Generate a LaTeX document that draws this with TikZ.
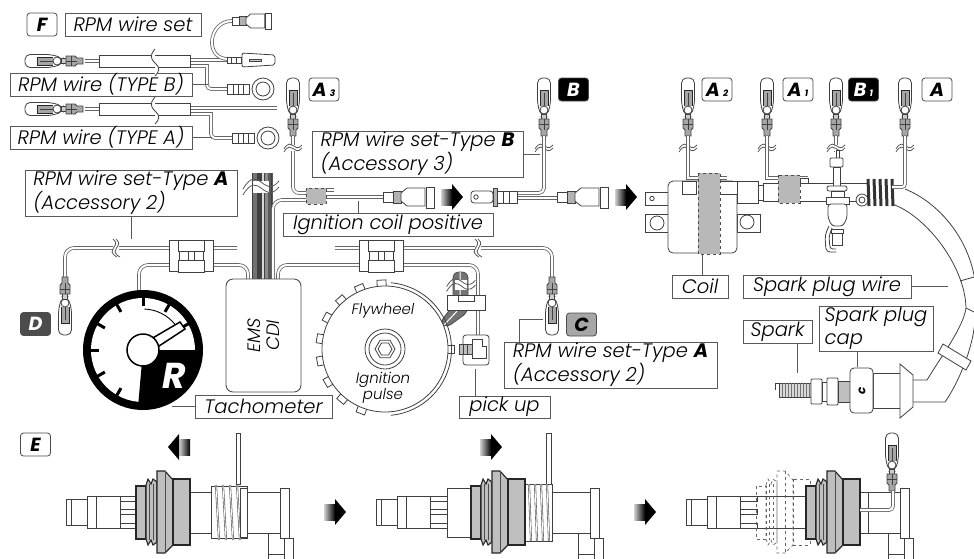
\documentclass[tikz,border=0pt]{standalone}
\usepackage{fontspec}
\setmainfont{Poppins}[UprightFont=* Light,ItalicFont=* Light Italic,BoldFont=* Bold,BoldItalicFont=* Bold Italic]
\tikzset{
    partline/.style={draw=black!75,line width=.8pt},
    leader/.style={draw=black!65,line width=.9pt},
    wire/.style={draw=black!60,line width=.8pt,double=white,double distance=2pt},
    lblbox/.style={draw=black!65,line width=.9pt,fill=white,inner sep=0pt,align=left,font=\fontsize{19.5}{22.5}\selectfont\itshape},
    box/.style 2 args={minimum width=#1pt,minimum height=#2pt},
    tagbox/.style={draw=black!70,line width=.8pt,rounded corners=3pt,minimum width=30pt,minimum height=23pt,inner sep=0pt,font=\fontsize{19}{20}\selectfont\bfseries\itshape},
    bandbox/.style={draw=black!70,dashed,line width=.8pt,fill=black!28},
    bootline/.style={draw=black!85,line width=1.1pt,fill=black!25},
    bootfine/.style={draw=black!70,line width=.7pt},
    bulletplug/.pic={
        \draw[partline,fill=white,rounded corners=5pt] (-3,38) -- (-6.5,26) -- (-6.5,0) -- (6.5,0) -- (6.5,26) -- (3,38) -- cycle;
        \fill[black!35] (-4,12) rectangle (4,28);
        \draw[line width=.9pt,black!85] (-4,28) -- (-4,12) -- (4,12) -- (4,28);
        \draw[partline] (0,15) -- (0,28);
        \draw[partline,fill=white] (0,32) circle (4);
        \draw[partline,fill=black!20] (-2.5,36) rectangle (2.5,42);
        \draw[partline,fill=black!35] (-5,41) -- (5,41) -- (5,50) -- (3,52) -- (3,58) -- (-3,58) -- (-3,52) -- (-5,50) -- cycle;
        \draw[partline] (-5,46) -- (5,46) (0,41) -- (0,52);
    },
    wirebreak/.pic={
        \fill[white] (-4,-3) rectangle (4,3);
        \draw[line width=.8pt,black!65] (-9,1) .. controls (-5,-6) and (-2,-4) .. (0,-2.5) .. controls (2,-1) and (5,2) .. (9,-3);
        \draw[line width=.8pt,black!65] (-9,4) .. controls (-5,-3) and (-2,-1) .. (0,.5) .. controls (2,2) and (5,5) .. (9,0);
    },
    femcon/.pic={
        \draw[partline,fill=white] (0,-5) rectangle (10,5);
        \draw[partline,fill=black!30] (10,-6) rectangle (18,6);
        \draw[partline,fill=white] (18,-4) -- (24,-9) -- (42,-9) -- (42,9) -- (24,9) -- (18,4) -- cycle;
        \draw[partline,fill=white] (43,-10) rectangle (51,11);
    },
    malecon/.pic={
        \draw[partline,fill=white,rounded corners=3pt] (0,-6) rectangle (-22,6);
        \draw[partline,fill=white] (-17,0) circle (2.2);
        \draw[partline,fill=black!30] (0,-9) rectangle (4,9);
        \draw[partline,fill=white] (4,-6) rectangle (24,6);
        \draw[partline] (10,-6) -- (10,6) (16,-6) -- (16,6);
    },
    ringlug/.pic={
        \draw[partline,fill=white] (0,-5) rectangle (22,5);
        \draw[partline] (6,-5) -- (6,5) (11,-5) -- (11,5) (16,-5) -- (16,5);
        \draw[partline,fill=white] (36,0) circle (11);
        \draw[partline] (36,0) circle (7);
    },
    spadelug/.pic={
        \draw[partline,fill=white] (0,-3) rectangle (14,3);
        \draw[partline] (4,-3) -- (4,3) (9,-3) -- (9,3);
        \draw[partline,fill=white,rounded corners=2pt] (15,-7) -- (15,7) -- (48,5) -- (48,-5) -- cycle;
        \draw[partline,fill=black!20] (22,-1) rectangle (34,1);
    },
    splice/.pic={
        \draw[partline,fill=white] (-22,-16) rectangle (-12,15);
        \draw[partline,fill=white] (12,-16) rectangle (22,15);
        \draw[partline,fill=white] (-3,-6) rectangle (3,5);
        \draw[partline,fill=white] (-13,-16) rectangle (13,-5);
        \draw[partline,fill=white] (-13,4) rectangle (13,16);
    },
    gradarrow/.pic={
        \shade[left color=black!18,right color=black] (-11,-8) rectangle (0,8);
        \fill[black] (0,-13) -- (11,0) -- (0,13) -- cycle;
    },
    capfront/.pic={
        \draw[partline,fill=white] (0,-13) rectangle (21,13);
        \draw[partline] (5,-13) -- (5,13);
        \draw[partline,fill=white] (21,-16) rectangle (54,16);
        \draw[partline] (30,-16) -- (30,16);
        \foreach \yy in {-16,-3,11} {
            \draw[partline,fill=white] (54,\yy) rectangle (71,\yy+5);
        }
    },
    capboot/.pic={
        \path[bootline] (0,-26) rectangle (10,27);
        \path[bootline] (10,-27) -- (12,-33) -- (15,-28) -- (17,-33) -- (21,-30) -- (21,30) -- (17,33) -- (15,28) -- (12,33) -- (10,27) -- cycle;
        \path[bootline] (21,-41) -- (29,-41) -- (37,-32) -- (37,33) -- (29,41) -- (21,41) -- cycle;
        \path[bootline] (37,-33) rectangle (54,33);
        \draw[bootfine] (13,-28) -- (13,28) (17,-28) -- (17,28) (29,-41) -- (29,41);
    },
    plateend/.pic={
        \draw[partline,fill=white] (0,-25) rectangle (9,25);
        \draw[partline] (-12,21) -- (-12,46) (4,25) -- (4,46) (4,25) -- (13,25) -- (13,46) (-12,41) -- (4,41);
    },
}
\begin{document}
\begin{tikzpicture}[x=1pt,y=-1pt]
    \useasboundingbox (0,0) rectangle (974,558);
    \clip (0,0) rectangle (974,558);

    % wire sets, top left
    \node (tagF) [tagbox,fill=white] at (42,24.5) {F};
    \node (wireset) [lblbox,box={136}{23}] at (133,24.5) {RPM wire set};
    \draw[wire] (190,60) -- (228,60);
    \draw[wire] (190,66) -- (207,66) [rounded corners=4pt] -- (207,89) -- (228,89);
    \draw[wire] (228,59) to[out=180,in=180,looseness=1.6] (232,21);
    \draw[wire] (190,108) -- (277,108);
    \draw[wire] (190,114) -- (211,114) [rounded corners=4pt] -- (211,138) -- (232,138);
    \pic at (227,60) {spadelug};
    \pic at (227,89) {ringlug};
    \pic at (232,138) {ringlug};
    \pic[scale=.78] at (232,21) {femcon};
    \foreach \yy in {61,109} {
        \pic[rotate=90] at (25,\yy) {bulletplug};
        \draw[partline,fill=white] (99,\yy-6) rectangle (190,\yy+6);
        \draw[wire] (85,\yy) -- (99,\yy);
    }
    \node (typeb) [lblbox,box={182}{23}] at (101,84.5) {RPM wire (TYPE B)};
    \node (typea) [lblbox,box={182}{23}] at (101,137.5) {RPM wire (TYPE A)};
    \draw[leader] (typeb.east) -- (208,84.5);
    \draw[leader] (typea.east) -- (212,137.5);
    \foreach \yy in {61,109} {
        \draw[line width=.9pt,black!70,fill=white] (155,\yy-12) .. controls (150,\yy-6) and (150,\yy-3) .. (155,\yy+2) .. controls (160,\yy+6) and (160,\yy+10) .. (155,\yy+15);
    }

    % wires to the CDI
    \foreach \xx/\cc in {252/55,257/75,261/15,264/45,268/65} {
        \fill[black!\cc] (\xx,173) rectangle (\xx+5,279);
    }
    \draw[partline] (252,173) -- (252,279) (257,173) -- (257,279) (261,173) -- (261,279) (264,173) -- (264,279) (271,173) -- (271,279);
    \pic[scale=2] at (261,187) {wirebreak};
    \draw[wire,rounded corners=9pt] (248,279) -- (248,265) -- (139,265) -- (139,292);
    \draw[wire,rounded corners=9pt] (278,279) -- (278,265) -- (478,265) -- (478,338);
    \draw[wire,rounded corners=9pt] (237,248) -- (65,248) -- (65,278);
    \draw[wire,rounded corners=9pt] (335,248) -- (552,248) -- (552,278);
    \draw[wire,rounded corners=9pt] (273,279) -- (273,200) -- (306,200);
    \draw[wire,rounded corners=6pt] (293,136) -- (293,193) -- (306,193);
    \draw[wire] (324,190) -- (334,190);
    \draw[wire] (324,197) -- (384,197);
    \pic at (191,256) {splice};
    \pic at (381,256) {splice};
    \pic[rotate=90] at (116,248) {wirebreak};
    \pic[rotate=90] at (478,248) {wirebreak};
    \draw[bandbox] (306,188) rectangle (326,204);
    \pic at (383,197) {femcon};

    % plugs
    \foreach \xx in {293,544,688,767,836,905} {
        \pic at (\xx,78) {bulletplug};
        \draw[wire] (\xx,136) -- (\xx,152);
        \pic at (\xx,148) {wirebreak};
    }
    \pic[rotate=180] at (65,335) {bulletplug};
    \pic[rotate=180] at (552,335) {bulletplug};
    \node (taga3) [tagbox,fill=white] at (324,89.5) {A\,{\small 3}};
    \node (tagb) [tagbox,fill=black,text=white] at (573.5,89.5) {B};
    \node (taga2) [tagbox,fill=white] at (717,89.5) {A\,{\small 2}};
    \node (taga1) [tagbox,fill=white] at (798,89.5) {A\,{\small 1}};
    \node (tagb1) [tagbox,fill=black,text=white] at (863.5,89.5) {B\,{\small 1}};
    \node (taga) [tagbox,fill=white] at (937,89.5) {A};
    \node (tagd) [tagbox,fill=black!70,text=white] at (35.5,324) {D};
    \node (tagc) [tagbox,fill=black!35] at (581.5,324.5) {C};

    % labels around the middle
    \node (seta) [lblbox,box={212}{46}] at (131,193) {RPM wire set-Type \textbf{A}\\(Accessory 2)};
    \node (setb) [lblbox,box={211}{46}] at (417.5,154) {RPM wire set-Type \textbf{B}\\(Accessory 3)};
    \node (ignpos) [lblbox,box={210}{23}] at (388,224.5) {Ignition coil positive};
    \node (setc) [lblbox,box={213}{46}] at (610.5,365) {RPM wire set-Type \textbf{A}\\(Accessory 2)};
    \coordinate (seta end) at (131,239);
    \coordinate (setb end) at (540,154);
    \coordinate (ign end) at (358,201);
    \coordinate (setc corner) at (519,319);
    \coordinate (setc end) at (543,319);
    \draw[leader] (seta end |- seta.south) -- (seta end);
    \draw[leader] (setb.east) -- (setb end);
    \draw[leader] (ign end |- ignpos.north) -- (ign end);
    \draw[leader] (setc corner |- setc.north) -- (setc corner) -- (setc end);

    % B connector
    \draw[wire,rounded corners=5pt] (544,140) -- (544,193) -- (518,193);
    \draw[wire] (517,198) -- (558,198);
    \pic[scale=1] at (493,197) {malecon};
    \pic at (557,197) {femcon};
    \pic at (452,197) {gradarrow};
    \pic at (626,197) {gradarrow};

    % CDI box
    \node (cdi) [draw=black!70,line width=.9pt,fill=white,rounded corners=7pt,minimum width=75pt,minimum height=113pt,inner sep=0pt] at (263.5,335.5) {};
    \node (cditext) [rotate=90,align=center,font=\fontsize{18}{19}\selectfont\itshape] at (cdi.center) {EMS\\CDI};

    % tachometer
    \begin{scope}[shift={(143,350)}]
        \fill[black] (0,0) circle (60);
        \fill[white] (0,0) circle (52);
        \fill[black] (0,0) -- (0:56) arc (0:95:56) -- cycle;
        \foreach \a in {-90,-60,-120,-150,180,150,120,-30} {
            \draw[black,line width=3pt] (\a:44) -- (\a:54);
        }
        \draw[black,line width=.9pt] (-88:41) arc (-88:-38:41);
        \draw[black,line width=1.5pt,fill=white] (8,-11) -- (37,-28) -- (42,-21) -- (13,-2) -- cycle;
        \draw[black,line width=1.5pt,fill=white] (0,0) circle (16);
        \node (tachlogo) [text=white,font=\fontsize{36}{36}\selectfont\bfseries\itshape,inner sep=0pt] at (31,26) {R};
    \end{scope}
    \node (tach) [lblbox,box={137}{23}] at (263.5,406.5) {Tachometer};
    \draw[leader] (tach.west) -- (172,406.5);

    % flywheel and pick up
    \draw[draw=black!70,line width=.8pt,fill=black!55,rounded corners=6pt] (453,272) -- (453,306) -- (440,322) -- (446,328) -- (468,312) -- (468,272) -- cycle;
    \draw[line width=1pt,white,rounded corners=6pt] (460,272) -- (460,308) -- (444,325);
    \pic[scale=1.6] at (461,285) {wirebreak};
    \begin{scope}[shift={(385,349)}]
        \foreach \a in {93,112.5,...,268} {
            \draw[partline,fill=white,rotate=\a] (61,-4.5) rectangle (69,4.5);
        }
        \draw[partline,fill=white,rotate=0] (61,-4) rectangle (69,4);
        \draw[partline] (-85:66.5) arc (-85:85:66.5);
        \draw[partline,fill=white] (0,0) circle (63);
        \draw[partline] (0,0) circle (20);
        \draw[partline] (0,0) circle (16);
        \draw[partline] (0:10) -- (60:10) -- (120:10) -- (180:10) -- (240:10) -- (300:10) -- cycle;
        \draw[partline] (0:7) -- (60:7) -- (120:7) -- (180:7) -- (240:7) -- (300:7) -- cycle;
        \node (flytext) [font=\fontsize{15}{16}\selectfont\itshape] at (-2,-38) {Flywheel};
        \node (pulsetext) [align=center,font=\fontsize{15}{14}\selectfont\itshape] at (-2,39) {Ignition\\pulse};
    \end{scope}
    \draw[partline,fill=white] (447,295) rectangle (485,310);
    \draw[partline,fill=white] (458,295) rectangle (474,301);
    \draw[partline,fill=white,rounded corners=3pt] (463,335) rectangle (489,365);
    \draw[partline,fill=white] (472,339) -- (482,339) -- (482,346) -- (486,346) -- (486,358) -- (472,358) -- cycle;
    \draw[partline,fill=black!25] (459,344) rectangle (472,354);
    \draw[partline] (463,344) -- (463,354) (467,344) -- (467,354);
    \node (pickup) [lblbox,box={91}{22}] at (504.5,407) {pick up};
    \coordinate (pick end) at (475,369);
    \draw[leader] (pick end |- pickup.north) -- (pick end);

    % coil
    \draw[partline,fill=white] (645,192) rectangle (668,205);
    \draw[partline] (652,198.5) circle (2.2);
    \draw[partline,fill=white] (645,214) rectangle (668,232);
    \draw[partline] (657,223) circle (7);
    \draw[partline,fill=white] (737,214) rectangle (760,232);
    \draw[partline] (747,222) circle (7);
    \draw[partline,fill=white,rounded corners=5pt] (668,181) rectangle (737,253);
    \draw[partline,fill=white] (682,181) rectangle (696,194);
    \draw[partline,fill=white] (716,181) rectangle (737,194);
    \draw[partline,fill=white] (737,181) rectangle (758,203);
    \draw[partline,fill=white] (758,185) rectangle (763,200);
    \draw[wire] (688,140) -- (688,178) -- (727,178);
    \draw[bandbox] (698,173) rectangle (720,254);
    \draw[partline,fill=white] (763,183) rectangle (868,201);

    % spark plug on the wire
    \draw[wire] (767,140) -- (767,178) -- (808,178);
    \draw[partline,fill=white] (800,178) rectangle (808,183);
    \draw[bandbox] (778,175) rectangle (800,203);
    \draw[partline,fill=white] (836,150) rectangle (839,158);
    \draw[partline,fill=white,rounded corners=1pt] (830,158) rectangle (843,167);
    \draw[partline,fill=white] (833,167) rectangle (840,186);
    \draw[partline,fill=white,rounded corners=2pt] (827,186) rectangle (847,191);
    \draw[partline,fill=white] (831,191) rectangle (844,197);
    \draw[partline,fill=white] (826,197) rectangle (849,204);
    \draw[partline,fill=white,rounded corners=3pt] (828,204) -- (828,218) -- (832,226) -- (843,226) -- (847,218) -- (847,204) -- cycle;
    \draw[partline,fill=white] (831,229) rectangle (843,233);
    \draw[partline,fill=white] (832,233) rectangle (842,245);
    \draw[partline,rounded corners=4pt] (829,226) -- (825,235) -- (826,252) -- (836,252);
    \draw[partline,rounded corners=3pt] (832,228) -- (829,236) -- (830,249) -- (836,249);

    % wire to the boot
    \draw[partline,fill=white] (862,200) circle (6);
    \draw[partline] (862,200) circle (3);
    \draw[partline] (905,189) .. controls (945,205) and (985,255) .. (975,320) .. controls (973,350) and (957,385) .. (945,402) -- (913,402);
    \draw[partline] (892,204) .. controls (925,215) and (965,265) .. (966,308) .. controls (963,328) and (942,355) .. (927,380) -- (913,380);
    \draw[partline] (960,281) -- (974,277) (966,308) -- (974,312);
    \draw[partline,fill=white] (943,344) -- (971,361) -- (966,370) -- (938,353) -- cycle;
    \foreach \xx in {868,874,880,886,892} {
        \draw[line width=3pt,black!80,rounded corners=2pt] (\xx,179) -- (\xx+1,206);
    }
    \draw[line width=.7pt,white] (871,179) -- (872,206) (877,179) -- (878,206) (883,179) -- (884,206);
    \draw[wire,rounded corners=3pt] (905,140) -- (905,187) -- (892,187);

    % spark and cap
    \draw[partline] (775,390) -- (775,383) -- (779,383);
    \draw[partline,fill=black!15] (779,383) rectangle (811,397);
    \foreach \xx in {782,785,...,809} {
        \draw[black!55,line width=.6pt] (\xx,383) -- (\xx,397);
    }
    \draw[partline,fill=white,rounded corners=1pt] (811,379) rectangle (822,404);
    \draw[partline,fill=white] (822,382) rectangle (827,401);
    \draw[partline,fill=white,rounded corners=1pt] (827,378) rectangle (838,405);
    \draw[partline,fill=black!25] (838,381) rectangle (850,402);
    \draw[partline,fill=white] (873,373) rectangle (900,408);
    \draw[partline,fill=white] (900,364) -- (913,375) -- (913,407) -- (900,418) -- cycle;
    \draw[partline,fill=white,rounded corners=4pt] (850,368) rectangle (873,413);
    \node (caprune) [rotate=90,font=\fontsize{12}{12}\selectfont\bfseries\itshape] at (862,391) {c};

    % coil and spark labels
    \node (coillbl) [lblbox,box={56}{23}] at (700,286.5) {Coil};
    \node (plugwire) [lblbox,box={168}{23}] at (827,286.5) {Spark plug wire};
    \node (sparklbl) [lblbox,box={69}{23}] at (777.5,331.5) {Spark};
    \node (caplbl) [lblbox,box={114}{45}] at (876,328.5) {Spark plug\\cap};
    \coordinate (coil end) at (702,254);
    \coordinate (wire end) at (948,286.5);
    \coordinate (spark end) at (797,373);
    \coordinate (cap end) at (857,367);
    \draw[leader] (coil end |- coillbl.north) -- (coil end);
    \draw[leader] (plugwire.east) -- (wire end);
    \draw[leader] (spark end |- sparklbl.south) -- (spark end);
    \draw[leader] (cap end |- caplbl.south) -- (cap end);

    % bottom row
    \node (tage) [tagbox,fill=white] at (35.5,444.5) {E};
    \pic[rotate=180] at (179,447) {gradarrow};
    \pic at (491,447) {gradarrow};
    \pic at (335,512) {gradarrow};
    \pic at (645,512) {gradarrow};

    % first step
    \draw[partline,fill=white] (190,492) rectangle (280,533);
    \draw[partline,fill=white] (236,433) rectangle (240,484);
    \pic at (280,513) {plateend};
    \draw[partline,fill=white] (211,486) rectangle (247,538);
    \foreach \xx in {216,223,230,237} {
        \draw[line width=2pt,black!65] (\xx,485) -- (\xx+3,540);
        \draw[line width=.8pt,white] (\xx,485) -- (\xx+3,540);
    }
    \draw[partline,fill=white] (240,488) rectangle (247,537);
    \pic at (66,512) {capfront};
    \pic at (136,512) {capboot};

    % second step
    \draw[partline,fill=white] (552,492) rectangle (590,533);
    \draw[partline,fill=white] (546,433) rectangle (551,484);
    \pic at (590,513) {plateend};
    \draw[partline,fill=white] (447,488) rectangle (472,537);
    \draw[partline,fill=white] (525,484) rectangle (552,541);
    \foreach \xx in {529,535,541,547} {
        \draw[line width=2pt,black!65] (\xx,484) -- (\xx+2,541);
        \draw[line width=.8pt,white] (\xx,484) -- (\xx+2,541);
    }
    \pic at (376,512) {capfront};
    \pic at (471,512) {capboot};

    % third step
    \pic at (686,512) {capfront};
    \draw[partline] (757,496) -- (806,496) (757,528) -- (806,528);
    \pic[bootline/.style={draw=black!60,dashed,line width=.7pt},bootfine/.style={draw=black!60,dashed,line width=.7pt}] at (756,512) {capboot};
    \draw[partline,fill=white] (860,492) rectangle (900,533);
    \draw[partline] (868,492) -- (868,533);
    \pic at (900,513) {plateend};
    \pic at (806,512) {capboot};
    \pic at (892,433) {bulletplug};
    \draw[wire,rounded corners=4pt] (893,491) -- (893,510) -- (860,510);
\end{tikzpicture}
\end{document}
